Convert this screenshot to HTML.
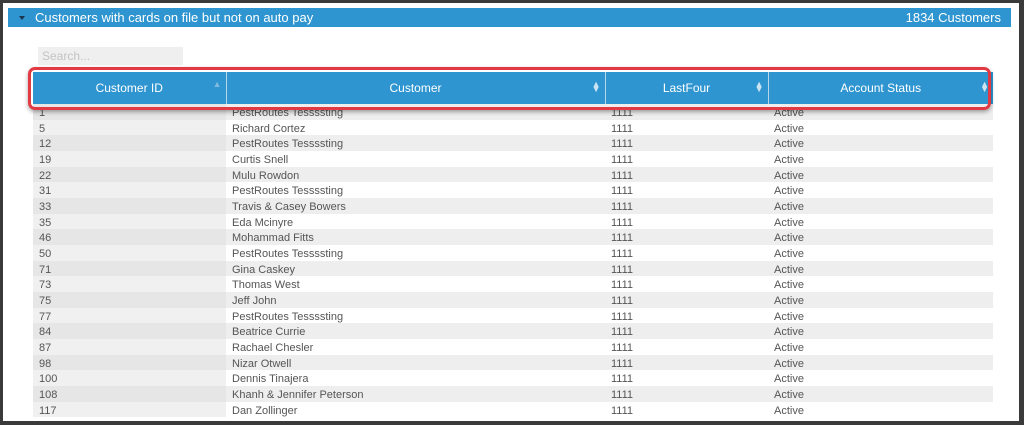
<!DOCTYPE html>
<html><head><style>
body{margin:0;width:1024px;height:425px;background:#3a3a3a;font-family:"Liberation Sans",Arial,sans-serif;overflow:hidden;position:relative}
.pg{position:absolute;left:3px;top:3px;width:1016px;height:418px;background:#fff;overflow:hidden}
.bar{position:absolute;left:5px;top:5px;width:1003px;height:19px;background:#2e95d0;color:#fff;font-size:13px;line-height:19px}
.bar .t{position:absolute;left:27px}.bar .r{position:absolute;right:10px}
.bar .a{position:absolute;left:11px;top:8px;border-left:3px solid transparent;border-right:3px solid transparent;border-top:4px solid #1a3550}
.search{position:absolute;left:35px;top:44px;width:145px;height:18px;background:#efefef;color:#c4c4c4;font-size:12px;line-height:18px;padding-left:4px;box-sizing:border-box}
table{position:absolute;left:30px;top:69px;border-collapse:collapse;font-size:11px;color:#555;table-layout:fixed;width:960px}
th{background:#2e95d0;color:#fff;font-weight:normal;font-size:12px;height:32px;border-left:1px solid #b6d6ea;position:relative;padding:0}
th:first-child{border-left:none}
td{height:15.68px;padding:3px 0 0 6px;line-height:12px;vertical-align:top;box-sizing:border-box}
tr.o td{background:#eeeeee}
td:first-child{background:#f0f0f0}
tr.o td:first-child{background:#e6e6e6}
.s{position:absolute;right:4px;top:10px;font-size:9px;line-height:5px;color:#cde3f2}
.red{position:absolute;left:25px;top:64px;width:957px;height:37px;border:3px solid #e23a44;border-radius:7px;box-shadow:0 2px 4px rgba(0,0,0,.35)}
</style></head><body><div class="pg">
<div class="bar"><span class="a"></span><span class="t">Customers with cards on file but not on auto pay</span><span class="r">1834 Customers</span></div>
<div class="search">Search...</div>
<table>
<colgroup><col style="width:193px"><col style="width:379px"><col style="width:163px"><col style="width:225px"></colgroup>
<tr><th>Customer ID<span class="s" style="color:#7fb9e0">▲</span></th><th>Customer<span class="s">▲<br>▼</span></th><th>LastFour<span class="s">▲<br>▼</span></th><th>Account Status<span class="s">▲<br>▼</span></th></tr>
<tr class="o"><td>1</td><td>PestRoutes Tessssting</td><td>1111</td><td>Active</td></tr>
<tr><td>5</td><td>Richard Cortez</td><td>1111</td><td>Active</td></tr>
<tr class="o"><td>12</td><td>PestRoutes Tessssting</td><td>1111</td><td>Active</td></tr>
<tr><td>19</td><td>Curtis Snell</td><td>1111</td><td>Active</td></tr>
<tr class="o"><td>22</td><td>Mulu Rowdon</td><td>1111</td><td>Active</td></tr>
<tr><td>31</td><td>PestRoutes Tessssting</td><td>1111</td><td>Active</td></tr>
<tr class="o"><td>33</td><td>Travis &amp; Casey Bowers</td><td>1111</td><td>Active</td></tr>
<tr><td>35</td><td>Eda Mcinyre</td><td>1111</td><td>Active</td></tr>
<tr class="o"><td>46</td><td>Mohammad Fitts</td><td>1111</td><td>Active</td></tr>
<tr><td>50</td><td>PestRoutes Tessssting</td><td>1111</td><td>Active</td></tr>
<tr class="o"><td>71</td><td>Gina Caskey</td><td>1111</td><td>Active</td></tr>
<tr><td>73</td><td>Thomas West</td><td>1111</td><td>Active</td></tr>
<tr class="o"><td>75</td><td>Jeff John</td><td>1111</td><td>Active</td></tr>
<tr><td>77</td><td>PestRoutes Tessssting</td><td>1111</td><td>Active</td></tr>
<tr class="o"><td>84</td><td>Beatrice Currie</td><td>1111</td><td>Active</td></tr>
<tr><td>87</td><td>Rachael Chesler</td><td>1111</td><td>Active</td></tr>
<tr class="o"><td>98</td><td>Nizar Otwell</td><td>1111</td><td>Active</td></tr>
<tr><td>100</td><td>Dennis Tinajera</td><td>1111</td><td>Active</td></tr>
<tr class="o"><td>108</td><td>Khanh &amp; Jennifer Peterson</td><td>1111</td><td>Active</td></tr>
<tr><td>117</td><td>Dan Zollinger</td><td>1111</td><td>Active</td></tr>
</table>
<div class="red"></div>
</div></body></html>
